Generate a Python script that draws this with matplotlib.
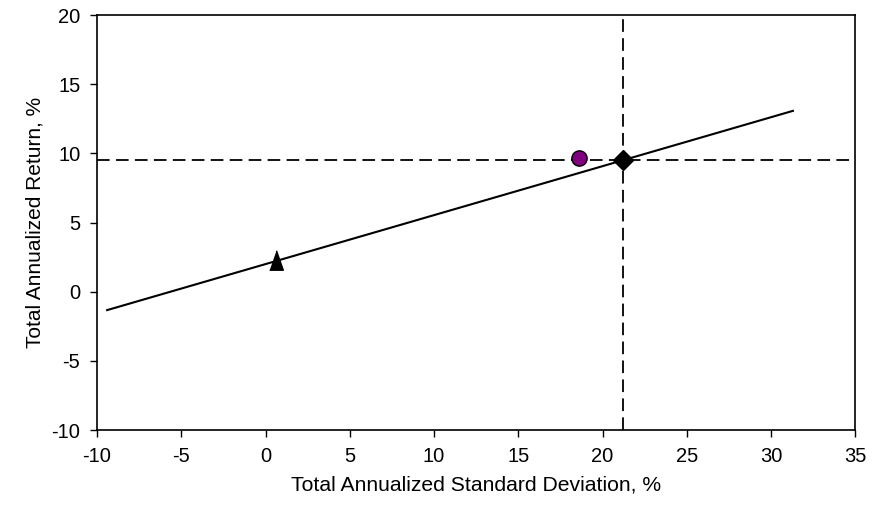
import matplotlib
matplotlib.use("Agg")
import matplotlib.pyplot as plt

plt.rcParams['font.family'] = ['Liberation Sans', 'DejaVu Sans']
plt.rcParams['axes.unicode_minus'] = False

# security market line end points (std dev %, return %)
line_x = [-9.4, 31.3]
line_y = [-1.33, 13.08]

# risk-free asset, portfolio, market
rf_x, rf_y = 0.6, 2.3
port_x, port_y = 18.6, 9.7
mkt_x, mkt_y = 21.2, 9.5

xticks = list(range(-10, 36, 5))
yticks = list(range(-10, 21, 5))

fig = plt.figure(figsize=(8.9, 5.05), dpi=100)
ax = fig.add_axes([0.109, 0.1485, 0.852, 0.8215])

dash = (0, (7, 3.5))
ax.axvline(mkt_x, color='black', lw=1.3, ls=dash)
ax.axhline(mkt_y, color='black', lw=1.3, ls=dash)
ax.plot(line_x, line_y, color='black', lw=1.5)
tri = [(-0.7, -1), (0.7, -1), (0, 1)]
ax.plot(rf_x, rf_y, marker=tri, ms=14, color='black', ls='none')
ax.plot(port_x, port_y, marker='o', ms=11, mfc='#800080', mec='black', mew=1, ls='none')
ax.plot(mkt_x, mkt_y, marker='D', ms=9.7, color='black', ls='none')

ax.set_xlim(-10, 35)
ax.set_ylim(-10, 20)
ax.set_xticks(xticks)
ax.set_yticks(yticks)
ax.tick_params(direction='out', length=5, width=1, pad=7, labelsize=14.5, colors='black')
for s in ax.spines.values():
    s.set_linewidth(1.2)
ax.set_xlabel('Total Annualized Standard Deviation, %', fontsize=15.2, labelpad=7)
ax.set_ylabel('Total Annualized Return, %', fontsize=15, labelpad=5)

fig.savefig('out.png', dpi=100)
